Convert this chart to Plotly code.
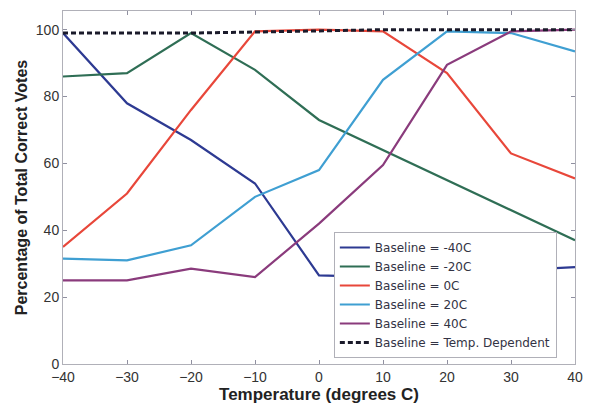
import plotly.graph_objects as go

temps = [-40, -30, -20, -10, 0, 10, 20, 30, 40]
names = ["Baseline = -40C", "Baseline = -20C", "Baseline = 0C",
         "Baseline = 20C", "Baseline = 40C", "Baseline = Temp. Dependent"]
base_m40 = [99, 78, 67, 54, 26.5, 26, 27, 28, 29]
base_m20 = [86, 87, 99, 88, 73, 64, 55, 46, 37]
base_0 = [35, 51, 76, 99.5, 100, 99.5, 87, 63, 55.5]
base_20 = [31.5, 31, 35.5, 50, 58, 85, 99.5, 99, 93.5]
base_40 = [25, 25, 28.5, 26, 42, 59.5, 89.5, 99.5, 100]
temp_dep = [99, 99, 99, 99.3, 99.7, 100, 100, 100, 100]

series = [base_m40, base_m20, base_0, base_20, base_40, temp_dep]
colors = ["#2d3a92", "#2f6e55", "#e8473a", "#3f9fd2", "#8a3b7c", "#1a1a2a"]

fig = go.Figure()
for n, s, c in zip(names, series, colors):
    dash = "5px,3px" if "Temp" in n else "solid"
    w = 3 if "Temp" in n else 2.2
    fig.add_trace(go.Scatter(x=temps, y=s, name=n, mode="lines",
                             line=dict(color=c, width=w, dash=dash)))

axis_common = dict(showline=True, linecolor="#b0b0b8", linewidth=1, mirror="ticks",
                   ticks="inside", ticklen=4, tickcolor="#9090a0", showgrid=False,
                   zeroline=False, tickfont=dict(family="Liberation Sans", size=14, color="#333333"))
fig.update_xaxes(range=[-40, 40], tickvals=temps, **axis_common,
                 title=dict(text="<b>Temperature (degrees C)</b>", standoff=2,
                            font=dict(family="Liberation Sans", size=17, color="#222222")))
fig.update_yaxes(range=[0, 105.6], tickvals=[0, 20, 40, 60, 80, 100], **axis_common,
                 title=dict(text="<b>Percentage of Total Correct Votes</b>", standoff=4,
                            font=dict(family="Liberation Sans", size=16, color="#222222")))
fig.update_layout(
    width=591, height=407, margin=dict(l=63, r=8, t=11, b=42),
    paper_bgcolor="white", plot_bgcolor="white",
    legend=dict(x=0.529, y=0.017, xanchor="left", yanchor="bottom",
                bgcolor="white", bordercolor="#b0b0b8", borderwidth=1,
                font=dict(family="DejaVu Sans", size=12, color="#333344"),
                itemwidth=30, tracegroupgap=0),
    showlegend=True,
)
fig.write_html("out.html")
